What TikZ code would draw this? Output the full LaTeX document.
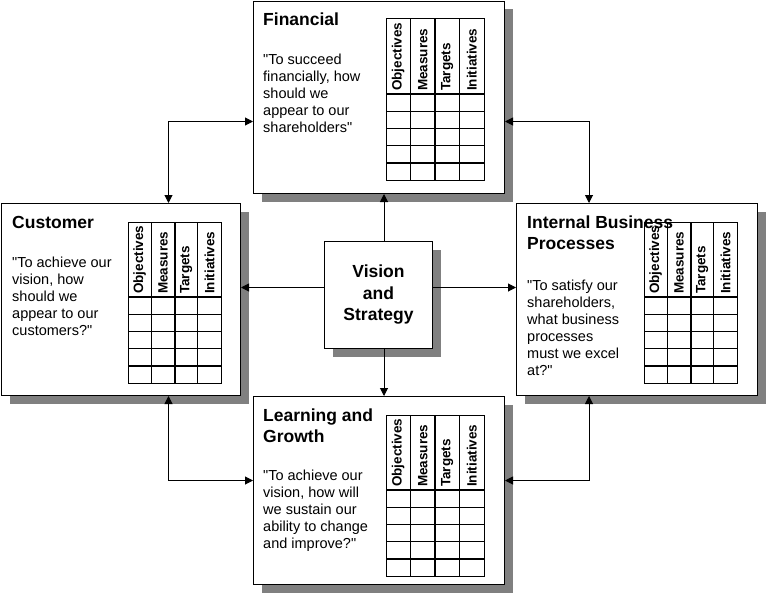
\documentclass[tikz,border=0pt]{standalone}
\usepackage{fontspec}
\setmainfont{Liberation Sans}[Ligatures=TeXOff]
\usetikzlibrary{arrows.meta,shadows}

\tikzset{
  card/.style={draw=black, fill=white, line width=1pt, anchor=north west, inner sep=0pt,
    drop shadow={shadow xshift=8pt, shadow yshift=-8pt, fill=gray, opacity=1}},
  heading/.style={font=\bfseries\fontsize{17.5}{21}\selectfont, align=left, anchor=north west, inner sep=0pt},
  question/.style={font=\fontsize{14.5}{17}\selectfont, align=left, anchor=north west, inner sep=0pt},
  colhead/.style={font=\bfseries\fontsize{13.5}{13.5}\selectfont, rotate=90, anchor=west, inner sep=0pt},
  arr/.style={-{Triangle[length=8pt,width=8pt]}, line width=1pt},
  twoway/.style={{Triangle[length=8pt,width=8pt]}-{Triangle[length=8pt,width=8pt]}, line width=1pt}
}

% measures table: #1 top left corner, #2 column width, #3 name
\newcommand{\bsctable}[3]{%
  \begin{scope}[shift={#1}]
    \draw[line width=1pt] (0,0) rectangle (4*#2,161);
    \foreach \r in {1,2,3} \draw[line width=1pt] (0,75+\r*17.2) -- (4*#2,75+\r*17.2);
    \draw[line width=2pt] (0,75) -- (4*#2,75);
    \draw[line width=2pt] (0,75+4*17.2) -- (4*#2,75+4*17.2);
    \draw[line width=1pt] (#2,0) -- (#2,161);
    \draw[line width=2pt] (2*#2,0) -- (2*#2,161);
    \draw[line width=1pt] (3*#2,0) -- (3*#2,161);
    \foreach \lbl [count=\i] in {Objectives,Measures,Targets,Initiatives}
      \node[colhead] (#3-\i) at ({(\i-0.5)*#2},72) {\lbl};
  \end{scope}}

\begin{document}
\begin{tikzpicture}[x=1pt,y=-1pt]
\useasboundingbox (0,0) rectangle (767,599);

% Draw the perspective boxes
\node[card, minimum width=251, minimum height=192] (fin) at (253,1) {};
\node[card, minimum width=239, minimum height=192] (cust) at (1,203) {};
\node[card, minimum width=241, minimum height=192] (ibp) at (516,203) {};
\node[card, minimum width=251, minimum height=188] (lrn) at (253,396) {};
\node[card, minimum width=108, minimum height=107, align=center,
      font=\bfseries\fontsize{17.5}{21.5}\selectfont] (vis) at (324,241) {Vision\\and\\Strategy};

% Tables
\bsctable{(386,19)}{24.5}{fintab}
\bsctable{(128,222)}{23.3}{custtab}
\bsctable{(644,222)}{23.3}{ibptab}
\bsctable{(386,415)}{24.5}{lrntab}

% Titles and questions
\node[heading] (fin-t) at (263,13) {Financial};
\node[question] (fin-q) at (263,54) {"To succeed\\financially, how\\should we\\appear to our\\shareholders"};
\node[heading] (cust-t) at (12,216) {Customer};
\node[question] (cust-q) at (12,257) {"To achieve our\\vision, how\\should we\\appear to our\\customers?"};
\node[heading] (ibp-t) at (527,216) {Internal Business\\Processes};
\node[question] (ibp-q) at (527,280) {"To satisfy our\\shareholders,\\what business\\processes\\must we excel\\at?"};
\node[heading] (lrn-t) at (263,409) {Learning and\\Growth};
\node[question] (lrn-q) at (263,470) {"To achieve our\\vision, how will\\we sustain our\\ability to change\\and improve?"};

% Arrows from the centre
\draw[arr] ([xshift=5.5pt]vis.north) -- ([xshift=5.5pt]vis.north |- fin.south);
\draw[arr] ([xshift=5.5pt]vis.south) -- ([xshift=5.5pt]vis.south |- lrn.north);
\draw[arr] ([yshift=7.5pt]vis.west) -- ([yshift=7.5pt]vis.west -| cust.east);
\draw[arr] ([yshift=7.5pt]vis.east) -- ([yshift=7.5pt]vis.east -| ibp.west);

% Links round the outside
\draw[twoway] ([xshift=47.5pt]cust.north) |- ([yshift=-24pt]fin.west);
\draw[twoway] ([yshift=-24pt]fin.east) -| ([xshift=-48pt]ibp.north);
\draw[twoway] ([xshift=47.5pt]cust.south) |- ([yshift=10pt]lrn.west);
\draw[twoway] ([xshift=-48pt]ibp.south) |- ([yshift=10pt]lrn.east);

\end{tikzpicture}
\end{document}
